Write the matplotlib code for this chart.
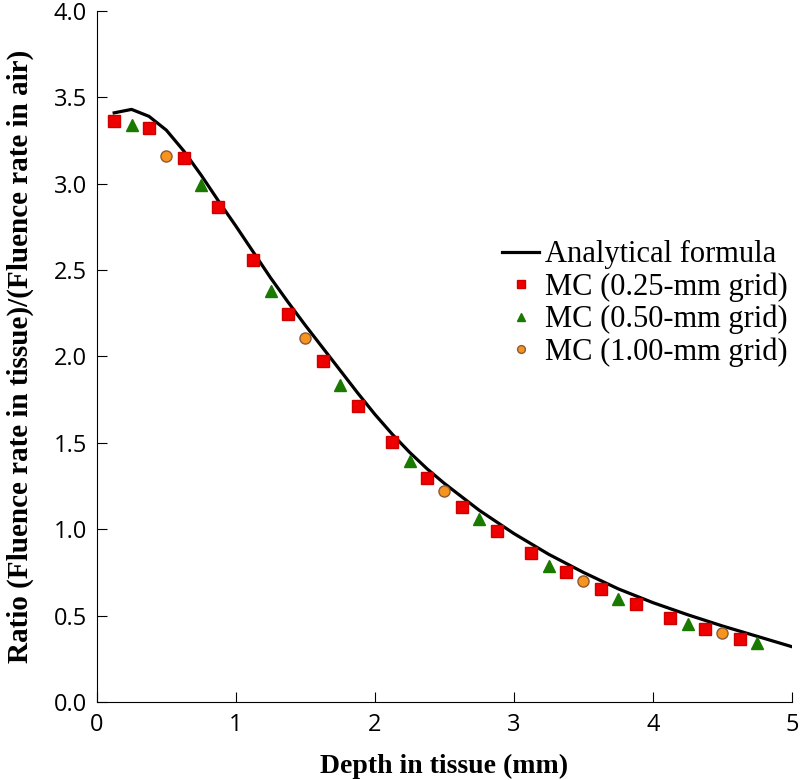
import numpy as np
import matplotlib.pyplot as plt

# Analytical formula
line_x = [0.125, 0.25, 0.375, 0.5, 0.625, 0.75, 0.875, 1.0, 1.125, 1.25, 1.375, 1.5,
          1.625, 1.75, 1.875, 2.0, 2.125, 2.25, 2.375, 2.5, 2.75, 3.0, 3.25, 3.5,
          3.75, 4.0, 4.25, 4.5, 4.75, 5.0]
line_y = [3.41, 3.43, 3.39, 3.31, 3.19, 3.05, 2.90, 2.755, 2.605, 2.455, 2.315, 2.18,
          2.05, 1.92, 1.79, 1.665, 1.55, 1.445, 1.35, 1.265, 1.11, 0.975, 0.855, 0.75,
          0.655, 0.575, 0.505, 0.44, 0.38, 0.32]

# MC 0.25-mm grid
sq_x = [0.125, 0.375, 0.625, 0.875, 1.125, 1.375, 1.625, 1.875, 2.125, 2.375,
        2.625, 2.875, 3.125, 3.375, 3.625, 3.875, 4.125, 4.375, 4.625]
sq_y = [3.36, 3.325, 3.147, 2.867, 2.56, 2.244, 1.974, 1.715, 1.503, 1.298,
        1.127, 0.99, 0.864, 0.754, 0.655, 0.567, 0.489, 0.425, 0.367]

# MC 0.50-mm grid
tri_x = [0.25, 0.75, 1.25, 1.75, 2.25, 2.75, 3.25, 3.75, 4.25, 4.75]
tri_y = [3.34, 2.99, 2.38, 1.835, 1.397, 1.057, 0.79, 0.595, 0.45, 0.34]

# MC 1.00-mm grid
circ_x = [0.5, 1.5, 2.5, 3.5, 4.5]
circ_y = [3.16, 2.105, 1.22, 0.70, 0.40]

fig = plt.figure(figsize=(8, 7.8), dpi=100)
ax = fig.add_axes([0.121, 0.1, 0.869, 0.886])

ax.plot(line_x, line_y, color='black', lw=2.3, label='Analytical formula', zorder=2)
ax.plot(sq_x, sq_y, 's', color='#ee0000', mec='#cc0000', ms=8, ls='none',
        label='MC (0.25-mm grid)', zorder=3)
ax.plot(tri_x, tri_y, '^', color='#1a7a00', mec='#1a7a00', ms=8.5, ls='none',
        label='MC (0.50-mm grid)', zorder=3)
ax.plot(circ_x, circ_y, 'o', color='#f7941d', mec='#8a5a3a', ms=8, ls='none',
        label='MC (1.00-mm grid)', zorder=3)

ax.set_xlim(0, 5)
ax.set_ylim(0, 4)
ax.set_xticks([0, 1, 2, 3, 4, 5])
ax.set_yticks(np.arange(0, 4.01, 0.5))
ax.set_yticklabels([f'{v:.1f}' for v in np.arange(0, 4.01, 0.5)])

for s in ['top', 'right']:
    ax.spines[s].set_visible(False)
ax.tick_params(axis='x', direction='in', length=7, labelsize=17, pad=8)
ax.tick_params(axis='y', direction='in', length=7, labelsize=17, pad=7)
for lab in ax.get_xticklabels() + ax.get_yticklabels():
    lab.set_family('Open Sans')

ax.set_xlabel('Depth in tissue (mm)', family='Liberation Serif', fontweight='bold',
              fontsize=20, labelpad=12)
ax.set_ylabel('Ratio (Fluence rate in tissue)/(Fluence rate in air)',
              family='Liberation Serif', fontweight='bold', fontsize=21, labelpad=14)

leg = ax.legend(loc='upper right', bbox_to_anchor=(0.985, 0.692),
                bbox_transform=fig.transFigure, frameon=False,
                prop={'family': 'Liberation Serif', 'size': 22}, handlelength=1.2,
                handletextpad=0.2, markerscale=0.7, labelspacing=0.1,
                borderpad=0, borderaxespad=0)

fig.savefig('out.png', dpi=100)
